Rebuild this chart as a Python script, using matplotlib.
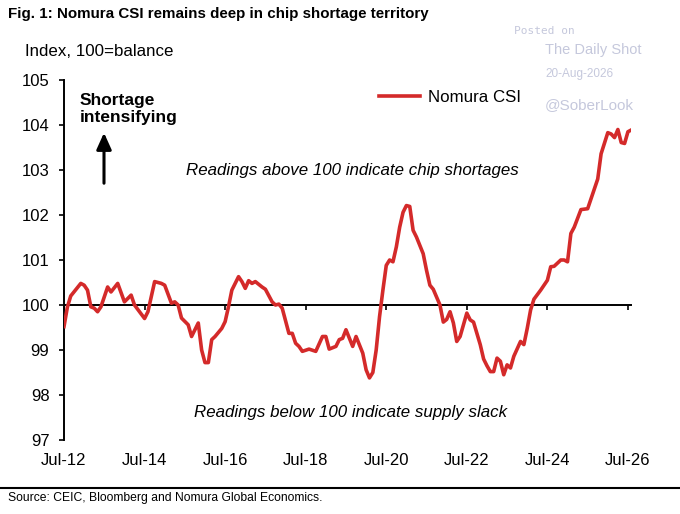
import matplotlib
matplotlib.use("Agg")
import matplotlib.pyplot as plt

# Data: months since Jul-2012 and Nomura CSI values
months = [0, 1, 2, 5, 6, 7, 8, 9, 10, 11, 13, 14, 16, 18, 20, 21, 24, 25, 27, 29,
          30, 32, 33, 34, 35, 37, 38, 40, 41, 42, 43, 44, 45, 47, 48, 49, 50, 52, 53, 54,
          55, 56, 57, 59, 60, 62, 63, 64, 65, 67, 68, 69, 70, 71, 73, 75, 77, 78, 79, 81,
          82, 83, 84, 86, 87, 89, 90, 91, 92, 93, 94, 95, 96, 97, 98, 99, 100, 101, 102, 103,
          104, 105, 107, 108, 109, 110, 112, 113, 114, 115, 116, 117, 118, 120, 121, 122, 124, 125, 126, 127,
          128, 129, 130, 131, 132, 133, 134, 136, 137, 138, 139, 140, 142, 144, 145, 146, 148, 149, 150, 151,
          152, 154, 156, 159, 160, 162, 163, 164, 165, 166, 167, 168, 169]
csi = [99.52, 99.95, 100.2, 100.48, 100.44, 100.33, 99.96, 99.93, 99.85, 99.96, 100.4, 100.29, 100.48, 100.07, 100.22, 100.0, 99.7, 99.85, 100.52, 100.48,
       100.44, 100.04, 100.07, 100.0, 99.71, 99.56, 99.3, 99.6, 99.0, 98.72, 98.72, 99.23, 99.3, 99.48, 99.63, 99.96, 100.33, 100.63, 100.52, 100.37,
       100.54, 100.48, 100.52, 100.4, 100.35, 100.07, 100.0, 100.02, 99.93, 99.37, 99.37, 99.15, 99.08, 98.97, 99.02, 98.97, 99.3, 99.3, 99.02, 99.08,
       99.23, 99.26, 99.45, 99.08, 99.3, 98.93, 98.56, 98.38, 98.5, 99.0, 99.74, 100.33, 100.88, 101.0, 100.96, 101.29, 101.73, 102.06, 102.21, 102.19,
       101.66, 101.51, 101.14, 100.77, 100.44, 100.35, 100.0, 99.62, 99.68, 99.85, 99.6, 99.19, 99.3, 99.82, 99.67, 99.62, 99.12, 98.8, 98.65, 98.52,
       98.52, 98.82, 98.75, 98.45, 98.67, 98.6, 98.86, 99.19, 99.12, 99.48, 99.89, 100.13, 100.33, 100.55, 100.85, 100.86, 101.0, 101.0, 100.96, 101.59,
       101.73, 102.12, 102.14, 102.8, 103.36, 103.83, 103.8, 103.72, 103.9, 103.61, 103.59, 103.85, 103.89]

tick_months = [0, 24, 48, 72, 96, 120, 144, 168]
tick_labels = ["Jul-12", "Jul-14", "Jul-16", "Jul-18", "Jul-20", "Jul-22", "Jul-24", "Jul-26"]
y_ticks = [97, 98, 99, 100, 101, 102, 103, 104, 105]

plt.rcParams['font.family'] = ['Liberation Sans', 'DejaVu Sans']

W, H = 680, 514
fig = plt.figure(figsize=(W / 100, H / 100), dpi=100)
ax = fig.add_axes([64 / W, 1 - 440 / H, (631.3 - 64) / W, 360 / H])

red = '#d42a2a'
ax.plot(months, csi, color=red, lw=2.6, label='Nomura CSI', solid_joinstyle='round', zorder=3)

ax.set_xlim(0, 169)
ax.set_ylim(97, 105)
ax.set_yticks(y_ticks)
ax.set_yticklabels([str(v) for v in y_ticks])
ax.tick_params(axis='y', direction='out', length=3.5, width=1.2, pad=7, labelsize=12)

for s in ['top', 'right']:
    ax.spines[s].set_visible(False)
ax.spines['left'].set_linewidth(1.4)
ax.spines['bottom'].set_position(('data', 100))
ax.spines['bottom'].set_linewidth(1.4)
ax.spines['bottom'].set_zorder(2)
ax.set_xticks(tick_months)
ax.tick_params(axis='x', direction='out', length=3.5, width=1.2, labelbottom=False)

sec = ax.secondary_xaxis('bottom')
sec.set_xticks(tick_months)
sec.set_xticklabels(tick_labels)
sec.tick_params(length=0, pad=9.5, labelsize=12)
sec.spines['bottom'].set_visible(False)

# Titles and annotations
fig.text(8 / W, 1 - 14 / H, "Fig. 1: Nomura CSI remains deep in chip shortage territory",
         fontsize=10.9, fontweight='bold', va='center', ha='left')
fig.text(25 / W, 1 - 51 / H, "Index, 100=balance", fontsize=12.2, va='center', ha='left')
fig.text(80 / W, 1 - 109 / H, "Shortage\nintensifying", fontsize=12.5, fontweight='bold',
         va='center', ha='left', linespacing=1.15)
ax.annotate('', xy=(104 / W, 1 - 130 / H), xytext=(104 / W, 1 - 186 / H),
            xycoords='figure fraction', textcoords='figure fraction',
            arrowprops=dict(arrowstyle='-|>,head_length=1.0,head_width=0.45', color='black', lw=2.2))
fig.text(352 / W, 1 - 171 / H, "Readings above 100 indicate chip shortages", fontsize=12.2,
         style='italic', ha='center', va='center')
fig.text(351 / W, 1 - 412 / H, "Readings below 100 indicate supply slack", fontsize=12.2,
         style='italic', ha='center', va='center')

leg = ax.legend(loc='center left', bbox_to_anchor=(379 / W, 1 - 97 / H), bbox_transform=fig.transFigure,
                frameon=False, fontsize=12.2, handlelength=2.4, handletextpad=0.5, borderpad=0, borderaxespad=0)

# Source line
fig.add_artist(plt.Line2D([0, 1], [1 - 488 / H, 1 - 488 / H], transform=fig.transFigure, color='black', lw=1.5))
fig.text(8 / W, 1 - 498 / H, "Source: CEIC, Bloomberg and Nomura Global Economics.", fontsize=8.7,
         ha='left', va='center')

# Watermark
wm = '#c5c8dc'
fig.text(514 / W, 1 - 31 / H, "Posted on", fontsize=8, family='DejaVu Sans Mono', color=wm, va='center', ha='left')
fig.text(545 / W, 1 - 50 / H, "The Daily Shot", fontsize=10.5, color=wm, va='center', ha='left')
fig.text(545 / W, 1 - 74 / H, "20-Aug-2026", fontsize=8.5, color=wm, va='center', ha='left')
fig.text(545 / W, 1 - 105 / H, "@SoberLook", fontsize=11, color=wm, va='center', ha='left')

fig.savefig('out.png', dpi=100)
